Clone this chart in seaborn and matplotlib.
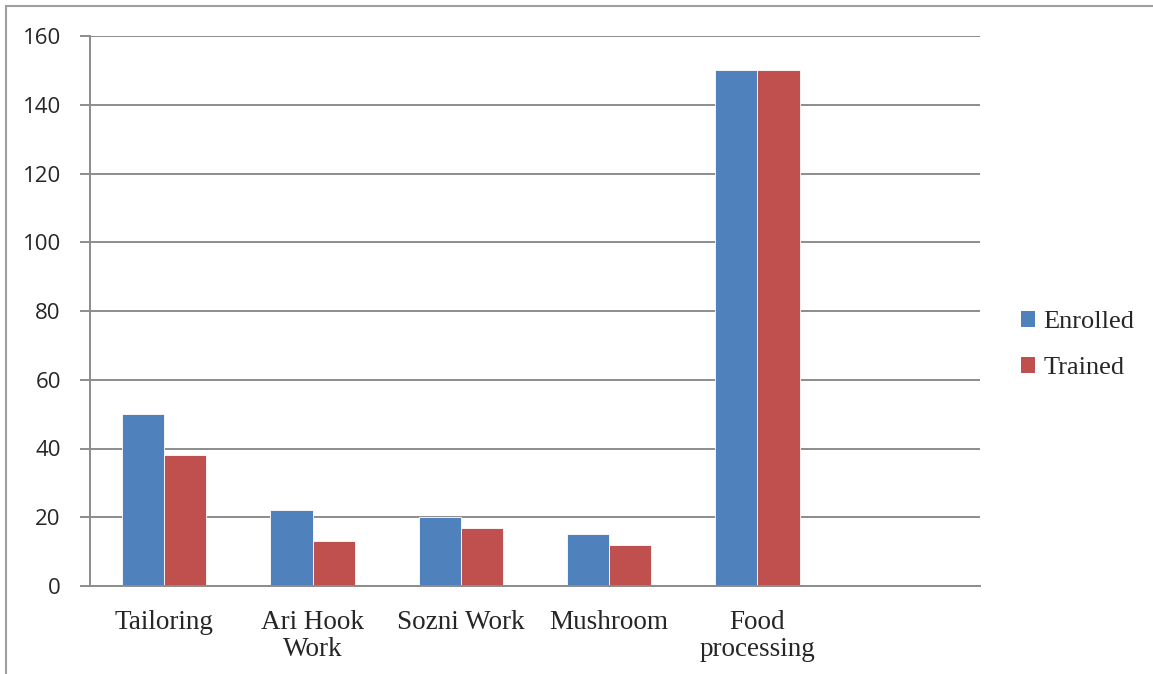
import numpy as np
import pandas as pd
import matplotlib
matplotlib.use('Agg')
import matplotlib.pyplot as plt
import seaborn as sns
from matplotlib.patches import Rectangle, Patch

# Data
skills = ['Tailoring', 'Ari Hook\nWork', 'Sozni Work', 'Mushroom', 'Food\nprocessing']
enrolled = [50, 22, 20, 15, 150]
trained = [38, 13, 17, 12, 150]
series = ['Enrolled', 'Trained']
colors = ['#4f81bd', '#c0504d']
order = skills + ['']  # empty sixth slot, as in the original

df = pd.DataFrame({
    'skill': skills * 2,
    'count': enrolled + trained,
    'status': [series[0]] * len(skills) + [series[1]] * len(skills),
})

sns.set_style('white')
grid_c = '#8c8c8c'

fig = plt.figure(figsize=(11.53, 6.74), dpi=100)
ax = fig.add_axes([90 / 1153, 88 / 674, 890 / 1153, 550 / 674])

sns.barplot(data=df, x='skill', y='count', hue='status', order=order,
            palette=colors, saturation=1, width=0.57, ax=ax,
            edgecolor='white', linewidth=0.6, legend=False)

ax.set_xlim(-0.5, len(order) - 0.5)
ax.set_ylim(0, 160)
ax.set_yticks(range(0, 161, 20))
ax.set_yticklabels([str(v) for v in range(0, 161, 20)],
                   fontfamily='Open Sans', fontsize=16)
ax.yaxis.grid(True, color=grid_c, linewidth=1.4)
ax.set_axisbelow(True)

# category labels centered, tick marks at the category boundaries
ax.set_xticks(range(len(order)))
ax.set_xticklabels(order, fontfamily='Liberation Serif', fontsize=19.5,
                   linespacing=1.15)
ax.tick_params(axis='x', which='major', length=0, pad=17)
ax.set_xticks(np.arange(-0.5, len(order), 1), minor=True)
ax.tick_params(axis='x', which='minor', length=7, width=1.4, color=grid_c,
               direction='out')
ax.tick_params(axis='y', length=7, width=1.4, color=grid_c, direction='out',
               pad=14, left=True)
for lab in ax.get_xticklabels():
    lab.set_verticalalignment('top')

ax.set_xlabel('')
ax.set_ylabel('')
for side in ['top', 'right']:
    ax.spines[side].set_visible(False)
for side in ['left', 'bottom']:
    ax.spines[side].set_color(grid_c)
    ax.spines[side].set_linewidth(1.4)

handles = [Patch(facecolor=c, edgecolor='none') for c in colors]
fig.legend(handles, series, loc='center left',
           bbox_to_anchor=(997 / 1153, 1 - 345 / 674), frameon=False,
           prop={'family': 'Liberation Serif', 'size': 19},
           handlelength=0.55, handleheight=0.55, handletextpad=0.3,
           labelspacing=0.9)

# thin frame around the chart area
fig.patches.append(Rectangle((6 / 1153, -0.01), 1.2, 1 - 6 / 674 + 0.01,
                             transform=fig.transFigure, fill=False,
                             edgecolor='#a0a0a0', linewidth=1.5))

fig.savefig('out.png', dpi=100)
